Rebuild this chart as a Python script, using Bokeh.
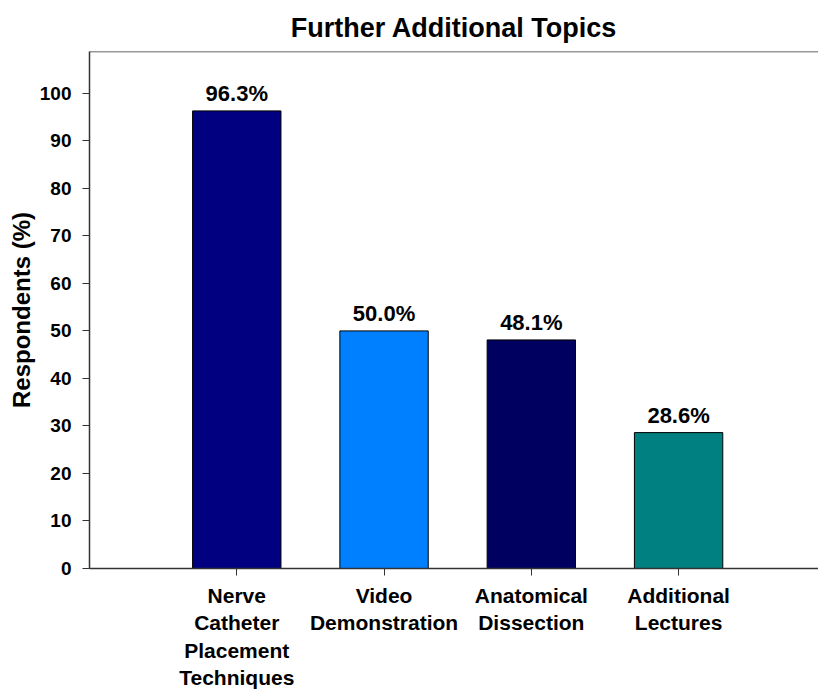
from bokeh.plotting import figure
from bokeh.models import ColumnDataSource, FixedTicker, Span, LabelSet
from bokeh.core.properties import value
from bokeh.embed import file_html
from bokeh.resources import INLINE

# Data
categories = ["Nerve\nCatheter\nPlacement\nTechniques", "Video\nDemonstration",
              "Anatomical\nDissection", "Additional\nLectures"]
values = [96.3, 50.0, 48.1, 28.6]
value_labels = ["96.3%", "50.0%", "48.1%", "28.6%"]
bar_colors = ["#000080", "#0080FF", "#000060", "#008080"]
y_ticks = [0, 10, 20, 30, 40, 50, 60, 70, 80, 90, 100]

FONT = "Liberation Sans"
positions = list(range(1, len(categories) + 1))

src = ColumnDataSource(dict(x=positions, top=values, color=bar_colors, label=value_labels))

p = figure(width=818, height=694, output_backend="svg", toolbar_location=None,
           x_range=(0, 4.95), y_range=(0, 108.8),
           title="Further Additional Topics")
p.min_border_left = 89
p.min_border_right = 0
p.min_border_top = 51
p.min_border_bottom = 126
p.outline_line_color = None
p.grid.visible = False
p.background_fill_color = "white"
p.border_fill_color = "white"

p.title.text_font = FONT
p.title.text_font_size = "27px"
p.title.text_font_style = "bold"
p.title.align = "center"
p.title.text_color = "black"
p.title.standoff = 17

p.vbar(x="x", top="top", width=0.6, bottom=0, fill_color="color",
       line_color="black", line_width=1, source=src)

labels = LabelSet(x="x", y="top", text="label", source=src, text_align="center",
                  text_baseline="bottom", y_offset=5, text_font=value(FONT),
                  text_font_size=value("22px"), text_font_style="bold", text_color="black")
p.add_layout(labels)

# top frame line
p.add_layout(Span(location=108.8, dimension="width", line_color="#333333", line_width=1.5))

# y axis
ya = p.yaxis[0]
ya.ticker = FixedTicker(ticks=y_ticks)
ya.axis_label = "Respondents (%)"
ya.axis_label_text_font = FONT
ya.axis_label_text_font_size = "24px"
ya.axis_label_text_font_style = "bold"
ya.axis_label_text_color = "black"
ya.axis_label_standoff = 2
ya.major_label_text_font = FONT
ya.major_label_text_font_size = "19px"
ya.major_label_text_font_style = "bold"
ya.major_label_text_color = "black"
ya.major_label_standoff = 11
ya.major_tick_in = 0
ya.major_tick_out = 7
ya.minor_tick_line_color = None
ya.axis_line_color = "#333333"
ya.axis_line_width = 1.5
ya.major_tick_line_color = "#333333"

# x axis
xa = p.xaxis[0]
xa.ticker = FixedTicker(ticks=positions)
xa.major_label_overrides = {pos: cat for pos, cat in zip(positions, categories)}
xa.major_label_text_font = FONT
xa.major_label_text_font_size = "21px"
xa.major_label_text_font_style = "bold"
xa.major_label_text_color = "black"
xa.major_label_standoff = 8
xa.major_tick_in = 0
xa.major_tick_out = 7
xa.minor_tick_line_color = None
xa.axis_line_color = "#333333"
xa.axis_line_width = 1.5
xa.major_tick_line_color = "#333333"

open("out.html", "w").write(file_html(p, INLINE))
